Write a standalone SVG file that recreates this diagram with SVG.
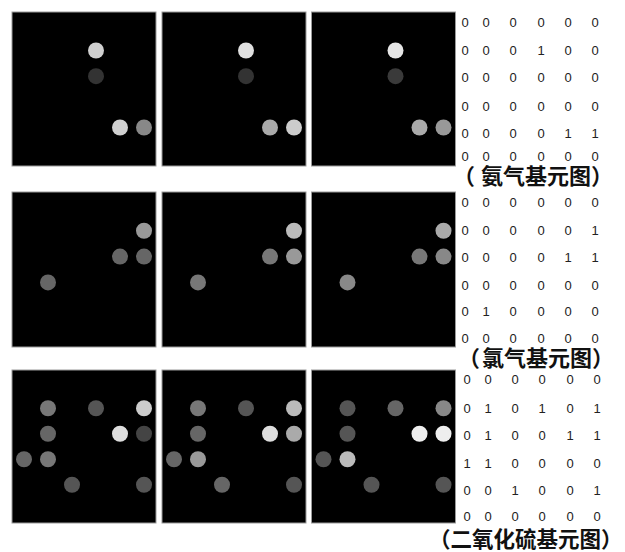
<svg xmlns="http://www.w3.org/2000/svg" width="625" height="552" viewBox="0 0 625 552">
<style>
.panel{fill:#000;stroke:#9a9a9a;stroke-width:1}
.d{font-family:"Liberation Sans",Arial,sans-serif;font-size:13px;fill:#222;text-anchor:middle}
.lab{font-family:"Noto Sans CJK SC","Noto Sans",sans-serif;font-size:22px;font-weight:bold;fill:#111}
</style>
<rect width="625" height="552" fill="#fff"/>
<g id="ammonia-1">
<rect class="panel" x="12" y="12" width="144" height="154"/>
<circle cx="96" cy="50.5" r="8" fill="#d0d0d0"/>
<circle cx="96" cy="76.2" r="8" fill="#333"/>
<circle cx="120" cy="127.5" r="8" fill="#d0d0d0"/>
<circle cx="144" cy="127.5" r="8" fill="#888"/>
</g>
<g id="ammonia-2">
<rect class="panel" x="162" y="12" width="144" height="154"/>
<circle cx="246" cy="50.5" r="8" fill="#e0e0e0"/>
<circle cx="246" cy="76.2" r="8" fill="#333"/>
<circle cx="270" cy="127.5" r="8" fill="#aaa"/>
<circle cx="294" cy="127.5" r="8" fill="#ccc"/>
</g>
<g id="ammonia-3">
<rect class="panel" x="311.5" y="12" width="144" height="154"/>
<circle cx="395.5" cy="50.5" r="8" fill="#e6e6e6"/>
<circle cx="395.5" cy="76.2" r="8" fill="#3a3a3a"/>
<circle cx="419.5" cy="127.5" r="8" fill="#aaa"/>
<circle cx="443.5" cy="127.5" r="8" fill="#999"/>
</g>
<g id="ammonia-matrix">
<text class="d" x="465 486 513 541 568 595" y="27">000000</text>
<text class="d" x="465 486 513 541 568 595" y="55">000100</text>
<text class="d" x="465 486 513 541 568 595" y="82">000000</text>
<text class="d" x="465 486 513 541 568 595" y="110.5">000000</text>
<text class="d" x="465 486 513 541 568 595" y="138">000011</text>
<text class="d" x="465 486 513 541 568 595" y="161">000000</text>
<text class="lab" x="453 481 503 525 547 569 591" y="184">（氨气基元图）</text>
</g>
<g id="chlorine-1">
<rect class="panel" x="12" y="192" width="144" height="155"/>
<circle cx="144" cy="230.75" r="8" fill="#999"/>
<circle cx="120" cy="256.6" r="8" fill="#666"/>
<circle cx="144" cy="256.6" r="8" fill="#666"/>
<circle cx="48" cy="282.4" r="8" fill="#666"/>
</g>
<g id="chlorine-2">
<rect class="panel" x="162" y="192" width="144" height="155"/>
<circle cx="294" cy="230.75" r="8" fill="#bbb"/>
<circle cx="270" cy="256.6" r="8" fill="#777"/>
<circle cx="294" cy="256.6" r="8" fill="#999"/>
<circle cx="198" cy="282.4" r="8" fill="#777"/>
</g>
<g id="chlorine-3">
<rect class="panel" x="311.5" y="192" width="144" height="155"/>
<circle cx="443.5" cy="230.75" r="8" fill="#aaa"/>
<circle cx="419.5" cy="256.6" r="8" fill="#777"/>
<circle cx="443.5" cy="256.6" r="8" fill="#888"/>
<circle cx="347.5" cy="282.4" r="8" fill="#888"/>
</g>
<g id="chlorine-matrix">
<text class="d" x="465 486 513 541 568 595" y="207">000000</text>
<text class="d" x="465 486 513 541 568 595" y="234.5">000001</text>
<text class="d" x="465 486 513 541 568 595" y="262">000011</text>
<text class="d" x="465 486 513 541 568 595" y="289.5">000000</text>
<text class="d" x="465 486 513 541 568 595" y="316">010000</text>
<text class="d" x="465 486 513 541 568 595" y="343">000000</text>
<text class="lab" x="458 482 504 526 548 570 592" y="366">（氯气基元图）</text>
</g>
<g id="so2-1">
<rect class="panel" x="12" y="370" width="144" height="153"/>
<circle cx="48" cy="408.25" r="8" fill="#777"/>
<circle cx="96" cy="408.25" r="8" fill="#555"/>
<circle cx="144" cy="408.25" r="8" fill="#ccc"/>
<circle cx="48" cy="433.75" r="8" fill="#666"/>
<circle cx="120" cy="433.75" r="8" fill="#ddd"/>
<circle cx="144" cy="433.75" r="8" fill="#444"/>
<circle cx="24" cy="459.25" r="8" fill="#666"/>
<circle cx="48" cy="459.25" r="8" fill="#777"/>
<circle cx="72" cy="484.75" r="8" fill="#555"/>
<circle cx="144" cy="484.75" r="8" fill="#555"/>
</g>
<g id="so2-2">
<rect class="panel" x="162" y="370" width="144" height="153"/>
<circle cx="198" cy="408.25" r="8" fill="#777"/>
<circle cx="246" cy="408.25" r="8" fill="#555"/>
<circle cx="294" cy="408.25" r="8" fill="#bbb"/>
<circle cx="198" cy="433.75" r="8" fill="#666"/>
<circle cx="270" cy="433.75" r="8" fill="#ddd"/>
<circle cx="294" cy="433.75" r="8" fill="#aaa"/>
<circle cx="174" cy="459.25" r="8" fill="#666"/>
<circle cx="198" cy="459.25" r="8" fill="#999"/>
<circle cx="222" cy="484.75" r="8" fill="#666"/>
<circle cx="294" cy="484.75" r="8" fill="#555"/>
</g>
<g id="so2-3">
<rect class="panel" x="311.5" y="370" width="144" height="153"/>
<circle cx="347.5" cy="408.25" r="8" fill="#555"/>
<circle cx="395.5" cy="408.25" r="8" fill="#666"/>
<circle cx="443.5" cy="408.25" r="8" fill="#888"/>
<circle cx="347.5" cy="433.75" r="8" fill="#555"/>
<circle cx="419.5" cy="433.75" r="8" fill="#eee"/>
<circle cx="443.5" cy="433.75" r="8" fill="#eee"/>
<circle cx="323.5" cy="459.25" r="8" fill="#555"/>
<circle cx="347.5" cy="459.25" r="8" fill="#bbb"/>
<circle cx="371.5" cy="484.75" r="8" fill="#555"/>
<circle cx="443.5" cy="484.75" r="8" fill="#555"/>
</g>
<g id="so2-matrix">
<text class="d" x="467 488 515 542 570 597" y="383.5">000000</text>
<text class="d" x="467 488 515 542 570 597" y="413">010101</text>
<text class="d" x="467 488 515 542 570 597" y="439.5">010011</text>
<text class="d" x="467 488 515 542 570 597" y="468">110000</text>
<text class="d" x="467 488 515 542 570 597" y="494.5">001001</text>
<text class="d" x="467 488 515 542 570 597" y="521">000000</text>
<text class="lab" style="font-size:21.5px" x="429" y="547">（二氧化硫基元图）</text>
</g>
</svg>
